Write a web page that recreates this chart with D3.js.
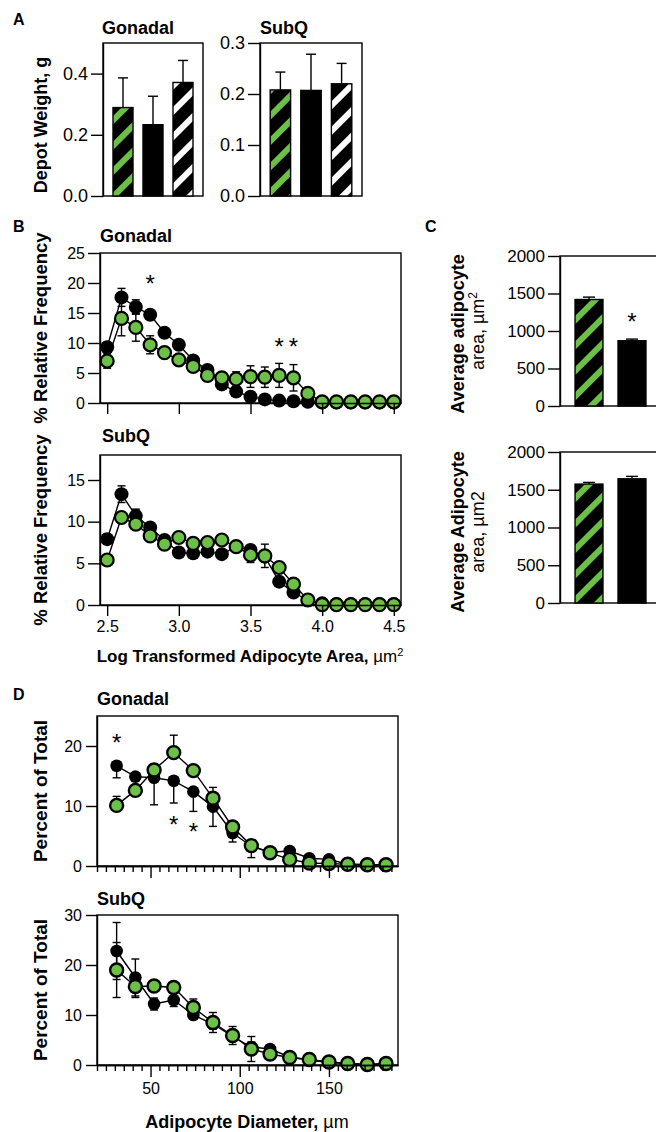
<!DOCTYPE html>
<html>
<head>
<meta charset="utf-8">
<script src="https://cdn.jsdelivr.net/npm/d3@7"></script>
<style>
    body { margin: 0; background: #fff; }
    svg text { font-family: "Liberation Sans", Arial, Helvetica, sans-serif; fill: #000; }
</style>
</head>
<body>
<svg id="fig" width="656" height="1132"></svg>
<script>
/** Données - panneau A (poids des dépôts) */
var depotGroups = ["greenStripe", "solid", "whiteStripe"];
var gonadalWeight = [0.289, 0.233, 0.371];
var gonadalWeightErr = [0.097, 0.093, 0.072];
var subqWeight = [0.208, 0.207, 0.220];
var subqWeightErr = [0.035, 0.071, 0.040];
var gonadalWeightTicks = [0, 0.2, 0.4];
var subqWeightTicks = [0, 0.1, 0.2, 0.3];

/** Données - panneau B (fréquence relative vs log aire) */
var logArea = [2.5, 2.6, 2.7, 2.8, 2.9, 3.0, 3.1, 3.2, 3.3, 3.4, 3.5, 3.6, 3.7, 3.8, 3.9, 4.0, 4.1, 4.2, 4.3, 4.4, 4.5];
var logAreaTicks = [2.5, 3.0, 3.5, 4.0, 4.5];
var bGonadalBlack = [9.3, 17.6, 16.0, 14.7, 11.7, 9.7, 7.1, 5.5, 3.1, 1.9, 1.05, 0.6, 0.4, 0.3, 0.2, 0.1, 0.1, 0.1, 0.1, 0.1, 0.1];
var bGonadalBlackErr = [0.8, 1.5, 1.2, 0.6, 0.5, 0.5, 0.4, 0.4, 0.3, 0.3, 0.2, 0.2, 0.1, 0.1, 0.1, 0, 0, 0, 0, 0, 0];
var bGonadalGreen = [7.0, 14.1, 12.6, 9.7, 8.4, 7.2, 6.1, 4.6, 4.2, 4.0, 4.4, 4.3, 4.6, 4.2, 1.6, 0.2, 0.2, 0.2, 0.2, 0.2, 0.2];
var bGonadalGreenErr = [1.2, 2.9, 2.3, 1.5, 0.8, 0.4, 0.4, 0.4, 0.5, 1.2, 1.8, 1.7, 2.0, 2.2, 0.3, 0.1, 0.1, 0.1, 0.1, 0.1, 0.1];
var bGonadalTicks = [0, 5, 10, 15, 20, 25];
var bGonadalStarX = [2.8, 3.7, 3.8];
var bGonadalStarY = [20.7, 10.2, 10.2];

var bSubqBlack = [7.9, 13.3, 10.7, 9.3, 7.8, 6.3, 6.2, 6.4, 6.1, 7.0, 6.6, 5.8, 2.8, 1.5, 0.6, 0.2, 0.1, 0.1, 0.1, 0.1, 0.1];
var bSubqBlackErr = [0.6, 1.0, 0.8, 0.5, 0.5, 0.4, 0.4, 0.4, 0.4, 0.4, 0.6, 0.6, 0.4, 0.3, 0.1, 0.1, 0, 0, 0, 0, 0];
var bSubqGreen = [5.4, 10.5, 9.7, 8.3, 7.3, 8.1, 7.4, 7.5, 7.8, 7.0, 6.0, 5.9, 4.5, 2.5, 0.6, 0.05, 0.05, 0.05, 0.05, 0.05, 0.05];
var bSubqGreenErr = [0.4, 0.6, 0.5, 0.5, 0.4, 0.4, 0.4, 0.3, 0.4, 0.4, 0.9, 1.4, 0.6, 0.4, 0.2, 0, 0, 0, 0, 0, 0];
var bSubqTicks = [0, 5, 10, 15];

/** Données - panneau C (aire moyenne) */
var areaGroups = ["greenStripe", "solid"];
var gonadalArea = [1420, 870];
var gonadalAreaErr = [32, 22];
var subqArea = [1575, 1645];
var subqAreaErr = [22, 32];
var areaTicks = [0, 500, 1000, 1500, 2000];
var cGonadalStarGroup = ["solid"];
var cGonadalStarY = [1187];

/** Données - panneau D (pourcentage vs diamètre) */
var diameter = [31, 41.5, 52, 63, 74, 85, 96, 106.5, 117, 128, 139, 150, 160.5, 171.5, 182];
var diameterTicks = [50, 100, 150];
var diameterMinorTicks = [20, 25, 30, 35, 40, 45, 55, 60, 65, 70, 75, 80, 85, 90, 95, 105, 110, 115, 120, 125, 130, 135, 140, 145, 155, 160, 165, 170, 175, 180, 185];
var dGonadalBlack = [16.7, 14.9, 14.7, 14.2, 12.4, 9.9, 5.5, 3.3, 2.3, 2.5, 1.3, 1.1, 0.3, 0.2, 0.2];
var dGonadalBlackErr = [2.0, 0.8, 4.5, 3.7, 3.3, 3.3, 1.5, 1.9, 0.4, 0.5, 0.4, 0.3, 0.2, 0.1, 0.1];
var dGonadalGreen = [10.1, 12.6, 16.0, 18.9, 15.9, 11.3, 6.5, 3.4, 2.2, 1.1, 0.5, 0.4, 0.3, 0.2, 0.2];
var dGonadalGreenErr = [1.5, 0.8, 1.0, 2.9, 0.8, 1.8, 0.6, 0.6, 0.5, 0.4, 0.3, 0.2, 0.1, 0.1, 0.1];
var dGonadalTicks = [0, 10, 20];
var dGonadalStarX = [31, 63, 74];
var dGonadalStarY = [21.5, 7.8, 6.6];

var dSubqBlack = [22.8, 17.5, 12.2, 13.0, 10.0, 8.2, 5.7, 3.6, 3.2, 1.6, 1.0, 0.5, 0.3, 0.1, 0.2];
var dSubqBlackErr = [5.7, 3.7, 1.2, 1.3, 0.8, 1.0, 0.8, 1.0, 0.5, 0.4, 0.3, 0.2, 0.1, 0.1, 0.1];
var dSubqGreen = [19.0, 15.7, 15.8, 15.5, 11.5, 8.5, 5.9, 3.2, 2.2, 1.5, 1.1, 0.6, 0.3, 0.1, 0.3];
var dSubqGreenErr = [5.5, 2.2, 0.8, 0.8, 1.7, 2.0, 1.8, 2.5, 0.5, 0.4, 0.3, 0.2, 0.1, 0.1, 0.1];
var dSubqTicks = [0, 10, 20, 30];

var GREEN = "#6cbf47";
var FONT = '"Liberation Sans", Arial, Helvetica, sans-serif';

/** Initialisation du SVG */
var svg = d3.select("#fig");
var defs = svg.append("defs");

// motifs hachurés (diagonales "/")
function makeStripe(id, color) {
    var p = defs.append("pattern")
        .attr("id", id)
        .attr("patternUnits", "userSpaceOnUse")
        .attr("width", 18)
        .attr("height", 18)
        .attr("patternTransform", "rotate(45)");
    p.append("rect").attr("width", 18).attr("height", 18).attr("fill", "#000");
    p.append("rect").attr("width", 6).attr("height", 18).attr("fill", color);
}
makeStripe("stripeGreen", GREEN);
makeStripe("stripeWhite", "#fff");

var barFill = {
    greenStripe: "url(#stripeGreen)",
    solid: "#000",
    whiteStripe: "url(#stripeWhite)"
};

function styleAxis(g, fs) {
    g.attr("font-family", null).attr("font-size", null);
    g.selectAll("path, line").attr("stroke", "#000").attr("stroke-width", 1.4);
    g.selectAll("text").attr("font-size", fs).attr("font-family", FONT).attr("fill", "#000");
}

function frame(box) {
    svg.append("rect")
        .attr("x", box.left)
        .attr("y", box.top)
        .attr("width", box.right - box.left)
        .attr("height", box.bottom - box.top)
        .attr("fill", "none")
        .attr("stroke", "#000")
        .attr("stroke-width", 1.4);
}

function yAxis(box, y, ticks, fmt, fs, size, pad) {
    var g = svg.append("g")
        .attr("transform", "translate(" + box.left + ",0)")
        .call(d3.axisLeft(y).tickValues(ticks).tickFormat(fmt).tickSize(size).tickPadding(pad).tickSizeOuter(0));
    styleAxis(g, fs);
    return g;
}

function text(x, y, str, opts) {
    opts = opts || {};
    return svg.append("text")
        .attr("x", x)
        .attr("y", y)
        .attr("font-size", opts.size || 18)
        .attr("font-weight", opts.weight || "bold")
        .attr("text-anchor", opts.anchor || "start")
        .text(str);
}

function rotatedLabel(x, yc, str, size) {
    return svg.append("text")
        .attr("transform", "translate(" + x + "," + yc + ") rotate(-90)")
        .attr("text-anchor", "middle")
        .attr("font-size", size || 18)
        .attr("font-weight", "bold")
        .text(str);
}

function star(x, y) {
    svg.append("text")
        .attr("x", x)
        .attr("y", y + 13.5)
        .attr("text-anchor", "middle")
        .attr("font-size", 24)
        .text("*");
}

/** Graphique en barres (panneaux A et C) */
function barPanel(box, groups, values, errs, yMax, ticks, fmt, fs, pad, capHalf) {
    var x = d3.scaleBand().domain(groups).range([box.left, box.right]).paddingInner(pad).paddingOuter(pad);
    var y = d3.scaleLinear().domain([0, yMax]).range([box.bottom, box.top]);

    frame(box);

    // barres d'erreur (vers le haut seulement)
    groups.forEach(function (gName, i) {
        var cx = x(gName) + x.bandwidth() / 2;
        svg.append("line")
            .attr("x1", cx).attr("x2", cx)
            .attr("y1", y(values[i])).attr("y2", y(values[i] + errs[i]))
            .attr("stroke", "#000").attr("stroke-width", 1.4);
        svg.append("line")
            .attr("x1", cx - capHalf).attr("x2", cx + capHalf)
            .attr("y1", y(values[i] + errs[i])).attr("y2", y(values[i] + errs[i]))
            .attr("stroke", "#000").attr("stroke-width", 1.4);
    });

    svg.selectAll(null)
        .data(groups)
        .enter()
        .append("rect")
        .attr("x", function (d) { return x(d); })
        .attr("y", function (d, i) { return y(values[i]); })
        .attr("width", x.bandwidth())
        .attr("height", function (d, i) { return box.bottom - y(values[i]); })
        .attr("fill", function (d) { return barFill[d]; })
        .attr("stroke", "#000")
        .attr("stroke-width", 1.4);

    yAxis(box, y, ticks, fmt, fs, 12, 3);
    return { x: x, y: y };
}

/** Graphique en courbes avec barres d'erreur (panneaux B et D)
 *  dir : "both", "up" ou "down" pour le sens des barres d'erreur */
function linePanel(box, xDomain, yMax, series) {
    var x = d3.scaleLinear().domain(xDomain).range([box.left, box.right]);
    var y = d3.scaleLinear().domain([0, yMax]).range([box.bottom, box.top]);

    frame(box);

    var errLayer = svg.append("g");
    var lineLayer = svg.append("g");
    var dotLayer = svg.append("g");

    var line = d3.line()
        .x(function (d) { return x(d[0]); })
        .y(function (d) { return y(d[1]); });

    series.forEach(function (s) {
        // barres d'erreur
        s.x.forEach(function (xv, i) {
            var e = s.err[i];
            if (!e) return;
            var cx = x(xv);
            var lo = s.dir === "up" ? y(s.values[i]) : y(Math.max(0, s.values[i] - e));
            var hi = s.dir === "down" ? y(s.values[i]) : y(s.values[i] + e);
            errLayer.append("line").attr("x1", cx).attr("x2", cx).attr("y1", lo).attr("y2", hi)
                .attr("stroke", "#000").attr("stroke-width", 1.4);
            var caps = s.dir === "up" ? [hi] : (s.dir === "down" ? [lo] : [lo, hi]);
            caps.forEach(function (yy) {
                errLayer.append("line").attr("x1", cx - 4).attr("x2", cx + 4).attr("y1", yy).attr("y2", yy)
                    .attr("stroke", "#000").attr("stroke-width", 1.4);
            });
        });
        lineLayer.append("path")
            .datum(s.x.map(function (xv, i) { return [xv, s.values[i]]; }))
            .attr("fill", "none")
            .attr("stroke", "#000")
            .attr("stroke-width", 1.4)
            .attr("d", line);
        dotLayer.append("g").selectAll("circle")
            .data(s.values)
            .enter()
            .append("circle")
            .attr("cx", function (d, i) { return x(s.x[i]); })
            .attr("cy", function (d) { return y(d); })
            .attr("r", s.r)
            .attr("fill", s.fill)
            .attr("stroke", "#000")
            .attr("stroke-width", s.stroke);
    });
    return { x: x, y: y };
}

/* ---------------- Panneau A ---------------- */
text(13, 25, "A", { size: 16 });

var aGonBox = { left: 103, right: 203, top: 43, bottom: 196 };
text(138, 34, "Gonadal", { anchor: "middle" });
barPanel(aGonBox, depotGroups, gonadalWeight, gonadalWeightErr, 0.5, gonadalWeightTicks, d3.format(".1f"), 18, 0.333, 5);

var aSubBox = { left: 260, right: 362, top: 43, bottom: 196 };
text(284, 34, "SubQ", { anchor: "middle" });
barPanel(aSubBox, depotGroups, subqWeight, subqWeightErr, 0.3, subqWeightTicks, d3.format(".1f"), 18, 0.333, 5);

rotatedLabel(47, 125, "Depot Weight, g");

/* ---------------- Panneau B ---------------- */
text(13, 232, "B", { size: 16 });

var bGonBox = { left: 100, right: 401, top: 253, bottom: 403 };
text(100, 242, "Gonadal");
var bGon = linePanel(bGonBox, [2.45, 4.55], 25, [
    { x: logArea, values: bGonadalBlack, err: bGonadalBlackErr, dir: "both", fill: "#000", r: 7, stroke: 0 },
    { x: logArea, values: bGonadalGreen, err: bGonadalGreenErr, dir: "both", fill: GREEN, r: 6.5, stroke: 2.2 }
]);
yAxis(bGonBox, bGon.y, bGonadalTicks, d3.format("d"), 16, 12, 3);
styleAxis(svg.append("g")
    .attr("transform", "translate(0," + bGonBox.bottom + ")")
    .call(d3.axisBottom(bGon.x).tickValues(logAreaTicks).tickFormat("").tickSize(11).tickSizeOuter(0)), 16);
bGonadalStarX.forEach(function (d, i) { star(bGon.x(d), bGon.y(bGonadalStarY[i])); });
rotatedLabel(47, 328, "% Relative Frequency", 18.5);

var bSubBox = { left: 100, right: 401, top: 455, bottom: 605 };
text(102, 442, "SubQ");
var bSub = linePanel(bSubBox, [2.45, 4.55], 18, [
    { x: logArea, values: bSubqBlack, err: bSubqBlackErr, dir: "both", fill: "#000", r: 7, stroke: 0 },
    { x: logArea, values: bSubqGreen, err: bSubqGreenErr, dir: "both", fill: GREEN, r: 6.5, stroke: 2.2 }
]);
yAxis(bSubBox, bSub.y, bSubqTicks, d3.format("d"), 16, 12, 3);
styleAxis(svg.append("g")
    .attr("transform", "translate(0," + bSubBox.bottom + ")")
    .call(d3.axisBottom(bSub.x).tickValues(logAreaTicks).tickFormat(d3.format(".1f")).tickSize(11).tickPadding(5).tickSizeOuter(0)), 16);
rotatedLabel(47, 530, "% Relative Frequency", 18.5);

var bTitle = svg.append("text").attr("x", 250).attr("y", 662).attr("text-anchor", "middle").attr("font-size", 17);
bTitle.append("tspan").attr("font-weight", "bold").text("Log Transformed Adipocyte Area, ");
bTitle.append("tspan").attr("font-weight", "normal").text("µm");
bTitle.append("tspan").attr("font-weight", "normal").attr("baseline-shift", "super").attr("font-size", 11).text("2");

/* ---------------- Panneau C ---------------- */
text(425, 232, "C", { size: 16 });

var cGonBox = { left: 560, right: 661, top: 256, bottom: 406 };
var cGon = barPanel(cGonBox, areaGroups, gonadalArea, gonadalAreaErr, 2000, areaTicks, d3.format("d"), 17, 0.35, 6);
cGonadalStarGroup.forEach(function (d, i) {
    star(cGon.x(d) + cGon.x.bandwidth() / 2, cGon.y(cGonadalStarY[i]));
});
rotatedLabel(464, 334, "Average adipocyte");
var cl2 = svg.append("text").attr("transform", "translate(484,331) rotate(-90)").attr("text-anchor", "middle").attr("font-size", 18);
cl2.append("tspan").text("area, µm");
cl2.append("tspan").attr("baseline-shift", "super").attr("font-size", 12).text("2");

var cSubBox = { left: 560, right: 661, top: 452, bottom: 603 };
barPanel(cSubBox, areaGroups, subqArea, subqAreaErr, 2000, areaTicks, d3.format("d"), 17, 0.35, 6);
rotatedLabel(464, 532, "Average Adipocyte");
svg.append("text").attr("transform", "translate(484,532) rotate(-90)").attr("text-anchor", "middle")
    .attr("font-size", 18).text("area, µm2");

/* ---------------- Panneau D ---------------- */
text(13, 700, "D", { size: 16 });

function diameterAxis(box, x, labels) {
    styleAxis(svg.append("g")
        .attr("transform", "translate(0," + box.bottom + ")")
        .call(d3.axisBottom(x).tickValues(diameterMinorTicks).tickFormat("").tickSize(6).tickSizeOuter(0)), 16);
    styleAxis(svg.append("g")
        .attr("transform", "translate(0," + box.bottom + ")")
        .call(d3.axisBottom(x).tickValues(diameterTicks).tickFormat(labels ? d3.format("d") : "").tickSize(12).tickPadding(6).tickSizeOuter(0)), 16);
}

var dGonBox = { left: 97, right: 398, top: 716, bottom: 866 };
text(97, 705, "Gonadal");
var dGon = linePanel(dGonBox, [20, 188.7], 25, [
    { x: diameter, values: dGonadalBlack, err: dGonadalBlackErr, dir: "down", fill: "#000", r: 6.3, stroke: 0 },
    { x: diameter, values: dGonadalGreen, err: dGonadalGreenErr, dir: "up", fill: GREEN, r: 6.5, stroke: 2.4 }
]);
yAxis(dGonBox, dGon.y, dGonadalTicks, d3.format("d"), 16, 11, 4);
diameterAxis(dGonBox, dGon.x, false);
dGonadalStarX.forEach(function (d, i) { star(dGon.x(d), dGon.y(dGonadalStarY[i])); });
rotatedLabel(47, 791, "Percent of Total", 19);

var dSubBox = { left: 97, right: 398, top: 915, bottom: 1065 };
text(97, 905, "SubQ");
var dSub = linePanel(dSubBox, [20, 188.7], 30, [
    { x: diameter, values: dSubqBlack, err: dSubqBlackErr, dir: "both", fill: "#000", r: 6.3, stroke: 0 },
    { x: diameter, values: dSubqGreen, err: dSubqGreenErr, dir: "both", fill: GREEN, r: 6.5, stroke: 2.4 }
]);
yAxis(dSubBox, dSub.y, dSubqTicks, d3.format("d"), 16, 11, 4);
diameterAxis(dSubBox, dSub.x, true);
rotatedLabel(47, 990, "Percent of Total", 19);

var dTitle = svg.append("text").attr("x", 247).attr("y", 1128).attr("text-anchor", "middle").attr("font-size", 18);
dTitle.append("tspan").attr("font-weight", "bold").text("Adipocyte Diameter, ");
dTitle.append("tspan").attr("font-weight", "normal").text("µm");
</script>
</body>
</html>
